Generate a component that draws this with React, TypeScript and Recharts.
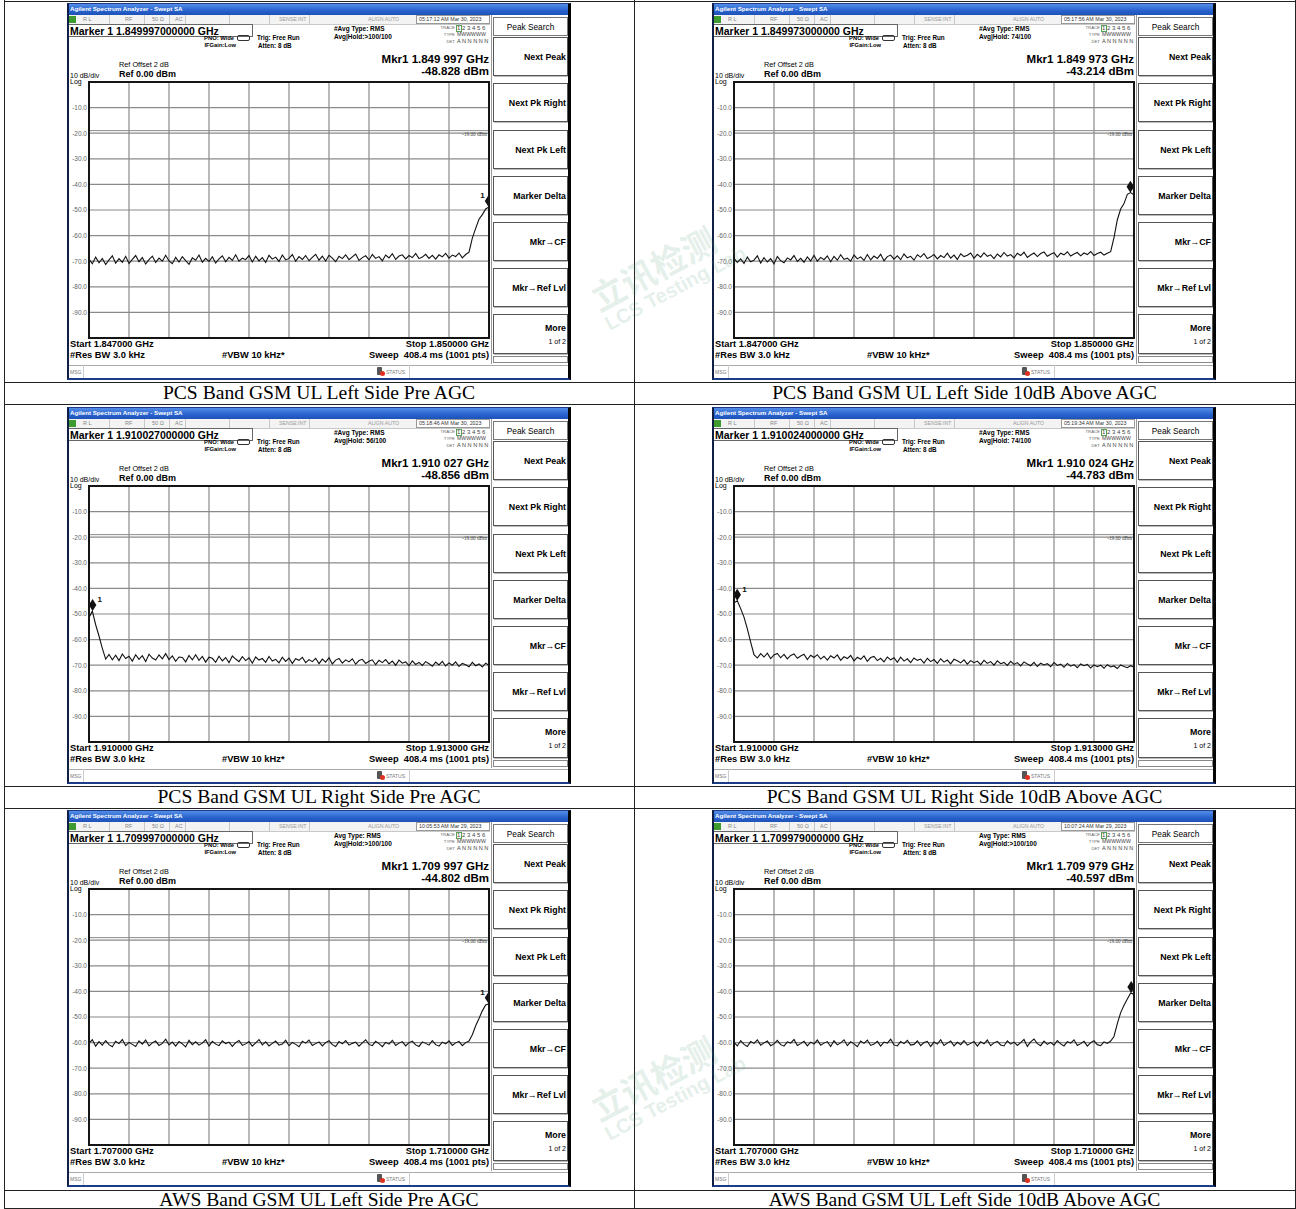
import React from 'react';
import { LineChart, Line, XAxis, YAxis, CartesianGrid, ReferenceLine, ReferenceDot } from 'recharts';

// ---------- data ----------
const captions = [
  'PCS Band GSM UL Left Side Pre AGC',
  'PCS Band GSM UL Left Side 10dB Above AGC',
  'PCS Band GSM UL Right Side Pre AGC',
  'PCS Band GSM UL Right Side 10dB Above AGC',
  'AWS Band GSM UL Left Side Pre AGC',
  'AWS Band GSM UL Left Side 10dB Above AGC',
];
const markerHeads = [
  'Marker 1 1.849997000000 GHz',
  'Marker 1 1.849973000000 GHz',
  'Marker 1 1.910027000000 GHz',
  'Marker 1 1.910024000000 GHz',
  'Marker 1 1.709997000000 GHz',
  'Marker 1 1.709979000000 GHz',
];
const mkrFreqText = [
  'Mkr1 1.849 997 GHz', 'Mkr1 1.849 973 GHz', 'Mkr1 1.910 027 GHz',
  'Mkr1 1.910 024 GHz', 'Mkr1 1.709 997 GHz', 'Mkr1 1.709 979 GHz',
];
const mkrAmpText = ['-48.828 dBm', '-43.214 dBm', '-48.856 dBm', '-44.783 dBm', '-44.802 dBm', '-40.597 dBm'];
const startText = [
  'Start 1.847000 GHz', 'Start 1.847000 GHz', 'Start 1.910000 GHz',
  'Start 1.910000 GHz', 'Start 1.707000 GHz', 'Start 1.707000 GHz',
];
const stopText = [
  'Stop 1.850000 GHz', 'Stop 1.850000 GHz', 'Stop 1.913000 GHz',
  'Stop 1.913000 GHz', 'Stop 1.710000 GHz', 'Stop 1.710000 GHz',
];
const avgTypeText = ['#Avg Type: RMS', '#Avg Type: RMS', '#Avg Type: RMS', '#Avg Type: RMS', 'Avg Type: RMS', 'Avg Type: RMS'];
const avgHoldText = ['Avg|Hold:>100/100', 'Avg|Hold: 74/100', 'Avg|Hold: 56/100', 'Avg|Hold: 74/100', 'Avg|Hold:>100/100', 'Avg|Hold:>100/100'];
const timeText = [
  '05:17:12 AM Mar 30, 2023', '05:17:56 AM Mar 30, 2023', '05:18:46 AM Mar 30, 2023',
  '05:19:34 AM Mar 30, 2023', '10:05:53 AM Mar 29, 2023', '10:07:24 AM Mar 29, 2023',
];
const markerOffsetKHz = [2997, 2973, 27, 24, 2997, 2979];
const markerLevel = [-48.828, -43.214, -48.856, -44.783, -44.802, -40.597];
const markerLabelSide = ['left', 'none', 'right', 'right', 'left', 'none'];
const displayLineDbm = -19;
const displayLineLabel = '-19.00 dBm';
const spanKHz = 3000;
const yTicks = [0, -10, -20, -30, -40, -50, -60, -70, -80, -90, -100];
const xTicksKHz = [0, 300, 600, 900, 1200, 1500, 1800, 2100, 2400, 2700, 3000];
const softkeys = ['Next Peak', 'Next Pk Right', 'Next Pk Left', 'Marker Delta', 'Mkr\u2192CF', 'Mkr\u2192Ref Lvl'];

const trace1 = [
  -69.2, -71.0, -68.4, -70.6, -68.9, -71.3, -69.5, -67.9, -70.8, -69.0,
  -70.4, -68.1, -70.9, -69.3, -67.8, -70.2, -68.6, -71.1, -69.4, -68.0,
  -70.5, -68.8, -70.0, -67.7, -69.9, -71.0, -68.5, -70.3, -68.2, -69.8,
  -71.2, -68.7, -69.6, -67.6, -70.4, -68.9, -70.1, -68.3, -70.7, -69.1,
  -67.9, -70.2, -68.5, -69.7, -67.5, -70.0, -68.8, -69.4, -67.8, -70.3,
  -68.1, -69.9, -68.6, -70.5, -67.7, -69.2, -68.4, -70.1, -67.6, -69.5,
  -68.9, -67.4, -70.0, -68.2, -69.3, -67.8, -69.8, -68.5, -67.3, -69.6,
  -68.0, -69.9, -67.7, -68.8, -70.2, -68.1, -69.0, -67.5, -69.4, -68.3,
  -67.2, -69.7, -68.6, -67.9, -69.5, -67.4, -68.9, -68.2, -69.8, -67.6,
  -68.7, -67.1, -69.3, -68.0, -67.5, -69.1, -67.8, -68.6, -67.0, -69.0,
  -68.4, -67.3, -68.9, -67.7, -69.2, -67.5, -68.3, -66.9, -68.8, -67.6,
  -68.2, -66.8, -68.7, -67.4, -66.5, -61.0, -57.2, -53.6, -51.8, -49.6,
  -48.8,
];
const trace2 = [
  -68.8, -70.5, -69.1, -70.9, -68.4, -70.2, -69.6, -67.9, -70.7, -68.6,
  -70.3, -69.0, -71.0, -68.2, -69.8, -70.6, -68.7, -69.5, -67.8, -70.1,
  -68.9, -70.4, -68.3, -69.9, -67.7, -70.0, -68.5, -69.4, -67.9, -70.2,
  -68.1, -69.6, -67.5, -69.3, -68.8, -70.0, -67.6, -69.1, -68.3, -69.7,
  -67.4, -69.5, -68.0, -68.9, -67.3, -69.8, -68.2, -67.6, -69.2, -67.9,
  -69.4, -67.2, -68.7, -68.1, -69.6, -67.5, -68.4, -67.0, -69.0, -68.3,
  -67.4, -69.1, -67.8, -68.6, -66.9, -68.8, -67.6, -69.3, -67.1, -68.2,
  -67.7, -66.8, -68.9, -67.3, -68.4, -66.7, -68.1, -67.5, -69.0, -67.2,
  -68.3, -66.6, -68.0, -67.4, -68.7, -66.9, -67.8, -66.5, -68.5, -67.6,
  -66.8, -68.2, -67.0, -66.4, -68.1, -67.3, -66.7, -68.4, -66.9, -67.5,
  -66.3, -68.0, -67.2, -66.6, -67.9, -66.8, -67.4, -66.2, -67.8, -67.0,
  -66.5, -67.6, -66.9, -66.3, -60.8, -53.8, -49.6, -47.5, -43.9, -43.2,
  -44.1,
];
const trace3 = [
  -51.5, -48.9, -54.2, -58.6, -63.4, -67.6, -65.8, -67.9, -66.1, -68.2,
  -65.6, -67.4, -66.5, -68.4, -65.9, -67.7, -66.3, -68.6, -65.7, -67.2,
  -68.0, -66.0, -67.5, -65.5, -67.8, -66.4, -68.5, -66.8, -67.0, -68.7,
  -66.2, -67.9, -65.9, -68.1, -66.6, -68.8, -66.9, -67.3, -68.9, -66.5,
  -68.3, -67.0, -69.0, -66.4, -67.6, -68.6, -66.7, -68.2, -67.1, -69.2,
  -66.8, -68.0, -67.4, -68.9, -66.6, -68.4, -67.7, -69.1, -66.9, -68.5,
  -67.2, -69.3, -67.5, -68.1, -66.9, -69.0, -67.8, -68.6, -67.3, -69.4,
  -67.6, -68.8, -67.1, -69.5, -68.0, -67.4, -69.2, -67.9, -68.7, -67.5,
  -69.6, -68.2, -67.7, -69.3, -68.5, -67.9, -69.8, -68.1, -69.0, -67.8,
  -69.5, -68.4, -70.0, -68.0, -69.2, -68.7, -70.2, -68.3, -69.7, -68.9,
  -70.1, -68.6, -69.4, -70.4, -68.8, -69.9, -68.5, -70.3, -69.1, -70.0,
  -68.7, -70.5, -69.3, -69.8, -70.6, -68.9, -70.2, -69.5, -70.7, -69.2,
  -70.1,
];
const trace4 = [
  -45.6, -44.8, -47.9, -51.2, -55.8, -61.0, -65.9, -67.2, -65.5, -66.8,
  -65.3, -67.4, -66.0, -65.4, -67.1, -65.8, -67.5, -66.2, -65.6, -67.3,
  -66.4, -65.7, -67.8, -66.1, -67.0, -65.9, -67.6, -66.5, -68.0, -66.3,
  -67.2, -66.0, -68.1, -66.7, -67.4, -66.2, -68.3, -66.9, -67.7, -66.4,
  -68.5, -67.0, -66.6, -68.2, -67.3, -68.7, -66.8, -67.9, -67.1, -68.9,
  -66.9, -68.4, -67.5, -69.0, -67.2, -68.1, -67.6, -69.2, -67.3, -68.6,
  -67.8, -69.3, -67.5, -68.8, -68.0, -69.5, -67.7, -68.3, -69.1, -67.9,
  -69.6, -68.2, -69.0, -68.4, -69.8, -68.1, -69.3, -68.6, -70.0, -68.3,
  -69.4, -68.9, -70.1, -68.5, -69.7, -69.0, -70.3, -68.7, -69.5, -70.2,
  -68.9, -70.5, -69.2, -69.9, -69.4, -70.6, -69.0, -70.1, -69.6, -70.8,
  -69.3, -70.4, -69.8, -71.0, -69.5, -70.2, -69.7, -71.1, -69.9, -70.6,
  -70.0, -71.2, -69.8, -70.7, -70.3, -71.3, -69.9, -70.5, -71.0, -70.2,
  -70.8,
];
const trace5 = [
  -60.2, -58.9, -61.4, -59.6, -61.0, -59.2, -60.8, -61.6, -59.5, -60.4,
  -58.8, -61.2, -59.9, -60.7, -61.5, -59.3, -60.6, -59.0, -61.3, -60.1,
  -59.4, -61.1, -60.3, -58.7, -60.9, -59.8, -61.4, -59.6, -60.5, -61.7,
  -59.1, -60.8, -59.7, -61.0, -60.2, -58.9, -61.3, -59.5, -60.6, -61.2,
  -59.3, -60.4, -59.8, -61.5, -60.0, -59.2, -61.1, -60.5, -59.6, -61.4,
  -60.1, -58.8, -60.9, -59.7, -61.3, -60.3, -59.4, -61.0, -60.6, -59.1,
  -61.2, -59.9, -60.7, -61.6, -59.5, -60.2, -59.0, -61.1, -60.4, -59.7,
  -61.3, -60.0, -59.3, -60.8, -61.5, -59.6, -60.5, -59.2, -61.0, -60.3,
  -59.8, -61.4, -60.1, -58.9, -60.7, -61.2, -59.5, -60.4, -61.6, -59.9,
  -60.6, -59.1, -61.1, -60.2, -59.6, -61.3, -60.0, -59.4, -60.9, -61.5,
  -59.7, -60.3, -61.0, -59.2, -60.8, -61.4, -59.8, -60.5, -59.3, -61.1,
  -60.1, -59.5, -61.2, -60.0, -59.4, -56.9, -53.4, -50.6, -47.6, -45.3,
  -44.8,
];
const trace6 = [
  -59.9, -61.3, -59.2, -60.7, -61.5, -59.6, -60.3, -58.9, -61.0, -60.1,
  -59.4, -61.2, -60.5, -59.1, -60.8, -61.4, -59.7, -60.2, -58.8, -61.1,
  -60.4, -59.5, -61.3, -59.8, -60.6, -59.0, -61.0, -60.2, -59.6, -61.5,
  -59.3, -60.9, -60.1, -58.9, -61.2, -59.7, -60.5, -61.6, -59.4, -60.3,
  -59.0, -61.1, -60.6, -59.5, -61.4, -59.8, -60.2, -58.7, -60.9, -61.3,
  -59.6, -60.4, -59.1, -61.0, -60.7, -59.3, -61.2, -60.0, -59.5, -61.5,
  -59.8, -60.6, -58.9, -61.1, -60.2, -59.4, -61.3, -59.9, -60.8, -59.2,
  -61.0, -60.3, -59.6, -61.4, -59.7, -60.5, -59.0, -61.2, -60.1, -59.5,
  -60.9, -61.3, -59.3, -60.6, -59.8, -61.1, -60.0, -58.8, -61.5, -59.7,
  -58.6, -60.4, -61.2, -59.4, -60.7, -59.9, -61.0, -59.2, -60.5, -61.3,
  -59.6, -60.2, -58.9, -61.1, -60.4, -59.5, -61.4, -60.0, -59.3, -60.8,
  -61.2, -59.7, -60.3, -59.4, -57.6, -52.6, -48.3, -45.4, -43.0, -40.6,
  -41.2,
];
const traces = [trace1, trace2, trace3, trace4, trace5, trace6];

// ---------- layout ----------
const COL_LEFT = [67, 712];
const ROW_TOP = [3, 407, 810];
const CAPTION_Y = [393, 797, 1200];
const COL_CENTER = [319, 964.5];
const SANS = '"Liberation Sans", Arial, sans-serif';

type TProps = { x: number; y: number; s: number; b?: boolean; a?: 'start' | 'end' | 'middle'; c?: string; f?: string; children: React.ReactNode };
const T = ({ x, y, s, b, a = 'start', c = '#000', f, children }: TProps) => (
  <div
    style={{
      position: 'absolute', left: x, top: y,
      transform: `translate(${a === 'end' ? '-100%' : a === 'middle' ? '-50%' : '0'}, -50%)`,
      fontSize: s, fontWeight: b ? 700 : 400, color: c, whiteSpace: 'pre', lineHeight: 1,
      fontFamily: f || SANS,
    }}
  >
    {children}
  </div>
);

const YTick = (props: any) => {
  const { x, y, payload } = props;
  if (payload.value === 0 || payload.value === -100) return <g />;
  return (
    <text x={x} y={y} dy={2.3} textAnchor="end" fontSize={6.5} fill="#666" fontFamily={SANS}>
      {Number(payload.value).toFixed(1)}
    </text>
  );
};

const EmptyTick = () => <g />;

const makeMarkerShape = (side: string) => (props: any) => {
  const { cx, cy } = props;
  const c = cy - 6;
  return (
    <g>
      <polygon points={`${cx},${c - 6} ${cx + 3.8},${c} ${cx},${c + 6} ${cx - 3.8},${c}`} fill="#111" />
      {side !== 'none' && (
        <text x={side === 'left' ? cx - 4 : cx + 5} y={c - 3} fontSize={8} fontWeight="bold" fontFamily={SANS}
          textAnchor={side === 'left' ? 'end' : 'start'} fill="#111">1</text>
      )}
    </g>
  );
};

const Box = ({ l, t, w, h, style }: { l: number; t: number; w: number; h: number; style?: React.CSSProperties }) => (
  <div style={{ position: 'absolute', left: l, top: t, width: w, height: h, boxSizing: 'border-box', ...style }} />
);

const Panel = ({ idx }: { idx: number }) => {
  const fx = COL_LEFT[idx % 2];
  const fy = ROW_TOP[Math.floor(idx / 2)];
  const tr = traces[idx];
  const data = tr.map((v, i) => ({ f: (i * spanKHz) / (tr.length - 1), v }));
  const softTops = [34, 80, 127, 173, 219, 265];
  return (
    <div style={{ position: 'absolute', left: fx, top: fy, width: 504, height: 377, background: '#fff', overflow: 'hidden' }}>
      {/* title bar */}
      <div style={{ position: 'absolute', left: 0, top: 0, width: 504, height: 12, background: 'linear-gradient(#5b94ea, #2a64cf 60%, #1d52b8)' }} />
      <T x={3} y={6} s={6.2} b c="#fff">Agilent Spectrum Analyzer - Swept SA</T>
      {/* status row */}
      <div style={{ position: 'absolute', left: 0, top: 12, width: 423, height: 9, background: '#f3f3f3', borderBottom: '1px solid #c8c8c8' }} />
      <Box l={1} t={13} w={8} h={7} style={{ background: '#3d9b2f' }} />
      {[42, 77, 102, 118, 162, 202, 242, 349].map((sx) => (
        <Box key={sx} l={sx} t={12} w={1} h={9} style={{ background: '#c8c8c8' }} />
      ))}
      <T x={16} y={16.5} s={5.5} c="#888">R L</T>
      <T x={58} y={16.5} s={5.5} c="#888">RF</T>
      <T x={85} y={16.5} s={5.5} c="#888">50 Ω</T>
      <T x={108} y={16.5} s={5.5} c="#888">AC</T>
      <T x={212} y={16.5} s={5.2} c="#999">SENSE:INT</T>
      <T x={301} y={16.5} s={5.2} c="#999">ALIGN AUTO</T>
      <Box l={349} t={12} w={74} h={9} style={{ border: '1px solid #999', background: '#fff' }} />
      <T x={352} y={16.5} s={5.3} c="#333">{timeText[idx]}</T>
      {/* marker head */}
      <Box l={1} t={21} w={185} h={13} style={{ border: '1px solid #666', background: '#fff' }} />
      <T x={3} y={27.5} s={10.5} b>{markerHeads[idx]}</T>
      <T x={167} y={35.5} s={5.8} b a="end">PNO: Wide</T>
      <Box l={170} t={32} w={13} h={6} style={{ border: '1px solid #333', borderRadius: 2 }} />
      <T x={169} y={42.5} s={5.8} b a="end">IFGain:Low</T>
      <T x={190} y={34.5} s={6.3} b>Trig: Free Run</T>
      <T x={191} y={42.5} s={6.3} b>Atten: 8 dB</T>
      <T x={267} y={26} s={6.5} b>{avgTypeText[idx]}</T>
      <T x={267} y={34} s={6.5} b>{avgHoldText[idx]}</T>
      {/* trace table */}
      <T x={388} y={25} s={4.3} c="#666" a="end">TRACE</T>
      <Box l={389} t={21.5} w={6} h={7} style={{ border: '1px solid #5aa05a' }} />
      <T x={390} y={25} s={6} c="#444">1 2 3 4 5 6</T>
      <T x={388} y={32} s={4.3} c="#666" a="end">TYPE</T>
      <T x={390} y={32} s={5.2} c="#444">MWWWWW</T>
      <T x={388} y={39} s={4.3} c="#666" a="end">DET</T>
      <T x={390} y={39} s={5.6} c="#444">A N N N N N</T>
      {/* marker readout */}
      <T x={422} y={57} s={11.5} b a="end">{mkrFreqText[idx]}</T>
      <T x={422} y={69} s={11.5} b a="end">{mkrAmpText[idx]}</T>
      <T x={52} y={62} s={7.3}>Ref Offset 2 dB</T>
      <T x={52} y={71} s={9} b>Ref 0.00 dBm</T>
      <T x={3} y={71.5} s={7}>10 dB/div</T>
      <T x={3} y={78} s={7}>Log</T>
      {/* chart */}
      <div style={{ position: 'absolute', left: 0, top: 79 }}>
        <LineChart width={422} height={257} data={data} margin={{ top: 0, right: 0, bottom: 0, left: 0 }}>
          <CartesianGrid stroke="#8a8a8a" strokeWidth={1.2} vertical horizontal />
          <XAxis dataKey="f" type="number" domain={[0, spanKHz]} ticks={xTicksKHz} interval={0} height={1} tick={<EmptyTick />} axisLine={false} tickLine={false} />
          <YAxis type="number" domain={[-100, 0]} ticks={yTicks} width={22} interval={0} tick={<YTick />} tickSize={0} tickMargin={2} axisLine={false} tickLine={false} />
          <ReferenceLine y={displayLineDbm} stroke="#8a8a8a" strokeWidth={1}
            label={{ value: displayLineLabel, position: 'insideTopRight', fontSize: 5.2, fill: '#444', offset: 2 }} />
          <Line type="linear" dataKey="v" stroke="#111" strokeWidth={1.1} dot={false} isAnimationActive={false} />
          <ReferenceDot x={markerOffsetKHz[idx]} y={markerLevel[idx]} r={4} shape={makeMarkerShape(markerLabelSide[idx])} />
        </LineChart>
      </div>
      <Box l={21} t={78} w={402} h={258} style={{ border: '2px solid #151515', pointerEvents: 'none' }} />
      {/* bottom annotations */}
      <T x={3} y={342} s={9.3} b>{startText[idx]}</T>
      <T x={422} y={342} s={9.3} b a="end">{stopText[idx]}</T>
      <T x={3} y={353} s={9.3} b>#Res BW 3.0 kHz</T>
      <T x={155} y={353} s={9.3} b>#VBW 10 kHz*</T>
      <T x={422} y={353} s={9.3} b a="end">{'Sweep  408.4 ms (1001 pts)'}</T>
      {/* softkeys */}
      <Box l={424} t={12} w={1} h={349} style={{ background: '#999' }} />
      <Box l={426} t={14} w={75} h={19} style={{ border: '1px solid #777', background: '#fff' }} />
      <T x={463.5} y={23.5} s={8.3} a="middle">Peak Search</T>
      {softkeys.map((k, i) => (
        <React.Fragment key={k}>
          <Box l={426} t={softTops[i]} w={75} h={39} style={{ border: '1px solid #555', boxShadow: '1px 1px 0 #bbb', background: '#fff' }} />
          <T x={499} y={softTops[i] + 19.5} s={8.8} b a="end">{k}</T>
        </React.Fragment>
      ))}
      <Box l={426} t={311} w={75} h={40} style={{ border: '1px solid #555', boxShadow: '1px 1px 0 #bbb', background: '#fff' }} />
      <T x={499} y={325} s={8.8} b a="end">More</T>
      <T x={499} y={338} s={7} a="end">1 of 2</T>
      <Box l={426} t={353} w={75} h={7} style={{ border: '1px solid #888' }} />
      {/* status bar */}
      <Box l={0} t={362} w={504} h={13} style={{ borderTop: '1px solid #aaa', background: '#fff' }} />
      <T x={3} y={368.5} s={5} c="#777">MSG</T>
      <Box l={16} t={362} w={1} h={13} style={{ background: '#ccc' }} />
      <Box l={310} t={364} w={5} h={8} style={{ background: '#555', borderRadius: 1 }} />
      <Box l={313} t={368} w={5} h={5} style={{ background: '#e03020', borderRadius: 3 }} />
      <T x={319} y={368.5} s={5} c="#777">STATUS</T>
      <Box l={342} t={362} w={1} h={13} style={{ background: '#ccc' }} />
      {/* frame border */}
      <Box l={0} t={0} w={504} h={377} style={{ borderLeft: '2px solid #0f1f45', borderRight: '3px solid #050505', borderBottom: '2px solid #1c3c88', borderTop: '1px solid #1c3c88', pointerEvents: 'none' }} />
    </div>
  );
};

const Watermark = ({ x, y }: { x: number; y: number }) => (
  <div style={{ position: 'absolute', left: x, top: y, transform: 'rotate(-28deg)', transformOrigin: 'left top', opacity: 0.14, color: '#4f9a7a', pointerEvents: 'none', whiteSpace: 'nowrap' }}>
    <div style={{ fontFamily: '"Noto Sans CJK SC", sans-serif', fontSize: 34, fontWeight: 700, lineHeight: 1 }}>立讯检测</div>
    <div style={{ fontFamily: SANS, fontSize: 20, fontWeight: 700, lineHeight: 1.1 }}>LCS Testing Lab</div>
  </div>
);

export default function App() {
  const hLines = [1, 382, 404, 786, 808, 1190, 1208];
  const vLines = [4, 634, 1295];
  return (
    <div style={{ position: 'absolute', left: 0, top: 0, width: 1296, height: 1209, background: '#fff', overflow: 'hidden' }}>
      {[0, 1, 2, 3, 4, 5].map((i) => <Panel key={i} idx={i} />)}
      {hLines.map((y) => <Box key={'h' + y} l={4} t={y} w={1292} h={1} style={{ background: '#222' }} />)}
      {vLines.map((x) => <Box key={'v' + x} l={x} t={0} w={1} h={1209} style={{ background: '#222' }} />)}
      {captions.map((c, i) => (
        <T key={c} x={COL_CENTER[i % 2]} y={CAPTION_Y[Math.floor(i / 2)]} s={19.6} a="middle" f={'"Liberation Serif", "Times New Roman", serif'}>{c}</T>
      ))}
      <Watermark x={585} y={285} />
      <Watermark x={585} y={1095} />
    </div>
  );
}
